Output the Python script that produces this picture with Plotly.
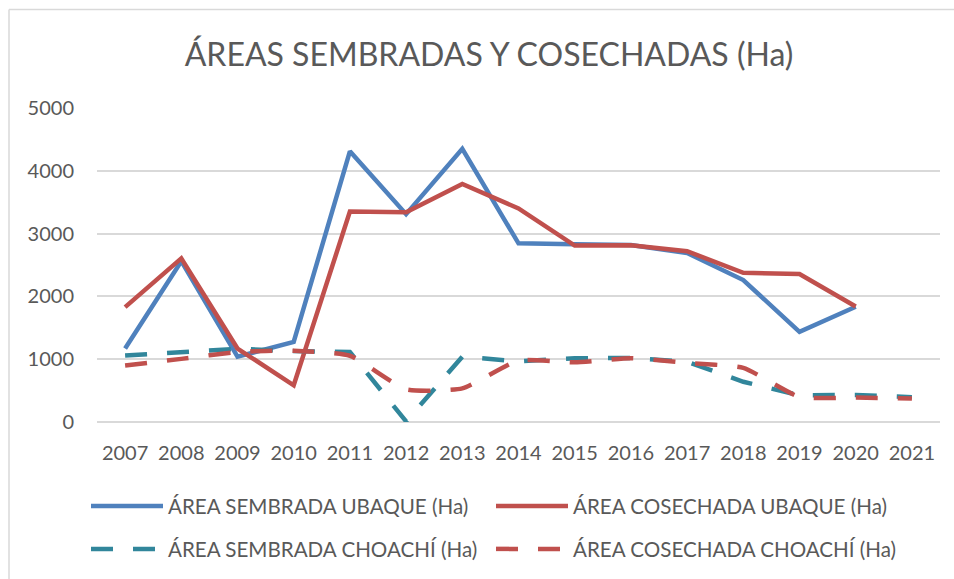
import plotly.graph_objects as go

years = [str(y) for y in range(2007, 2022)]

sembrada_ubaque = [1170, 2560, 1040, 1275, 4310, 3310, 4350, 2845, 2830, 2820, 2690, 2260, 1435, 1835, None]
cosechada_ubaque = [1830, 2605, 1170, 585, 3350, 3340, 3790, 3400, 2810, 2815, 2720, 2375, 2355, 1840, None]
sembrada_choachi = [1060, 1105, 1165, 1130, 1115, 10, 1040, 965, 1015, 1020, 960, 640, 426, 430, 395]
cosechada_choachi = [900, 1005, 1115, 1135, 1055, 521, 535, 980, 950, 1016, 940, 862, 399, 389, 373]

names = [
    "ÁREA SEMBRADA UBAQUE (Ha)",
    "ÁREA COSECHADA UBAQUE (Ha)",
    "ÁREA SEMBRADA CHOACHÍ (Ha)",
    "ÁREA COSECHADA CHOACHÍ (Ha)",
]

y_ticks = [0, 1000, 2000, 3000, 4000, 5000]

BLUE = "#4F81BD"
RED = "#C0504D"
TEAL = "#31869B"
TXT = "#595959"
GRID = "#D9D9D9"
FONT = "Lato"
DASH = "22px,20px"

fig = go.Figure()
fig.add_trace(go.Scatter(x=years, y=sembrada_ubaque, name=names[0], mode="lines",
                         line=dict(color=BLUE, width=4.5), legend="legend"))
fig.add_trace(go.Scatter(x=years, y=cosechada_ubaque, name=names[1], mode="lines",
                         line=dict(color=RED, width=4.5), legend="legend"))
fig.add_trace(go.Scatter(x=years, y=sembrada_choachi, name=names[2], mode="lines",
                         line=dict(color=TEAL, width=4.5, dash=DASH), legend="legend2"))
fig.add_trace(go.Scatter(x=years, y=cosechada_choachi, name=names[3], mode="lines",
                         line=dict(color=RED, width=4.5, dash=DASH, shape="spline", smoothing=0.5),
                         legend="legend2"))

W, H = 954, 579
L, R, T, B = 97, 14, 108, 157
pw, ph = W - L - R, H - T - B

def px_x(x):
    return (x - L) / pw

def px_y(y):
    return (H - B - y) / ph

legend_common = dict(orientation="h", xref="container", yref="container",
                     x=86 / W, xanchor="left", yanchor="middle",
                     itemwidth=72, entrywidth=318,
                     font=dict(size=20.6, color=TXT, family=FONT),
                     bgcolor="rgba(0,0,0,0)")

fig.update_layout(
    width=W, height=H,
    margin=dict(l=L, r=R, t=T, b=B),
    paper_bgcolor="white", plot_bgcolor="white",
    font=dict(family=FONT, color=TXT, size=20),
    title=dict(text="ÁREAS SEMBRADAS Y COSECHADAS (Ha)", x=489 / W, xanchor="center",
               y=1 - 55 / H, yanchor="middle", font=dict(size=32, color=TXT, family=FONT)),
    xaxis=dict(type="category", range=[-0.5, 14.5], showgrid=False, showline=False,
               ticks="", tickfont=dict(size=20, color=TXT), ticklabelstandoff=17),
    yaxis=dict(range=[0, 5000], tickvals=y_ticks, showgrid=True, gridcolor=GRID, gridwidth=1.5,
               zeroline=True, zerolinecolor=GRID, zerolinewidth=1.5, showline=False,
               ticks="", tickfont=dict(size=20, color=TXT), ticklabelstandoff=22),
    legend=dict(legend_common, y=1 - 506 / H),
    legend2=dict(legend_common, y=1 - 549 / H),
    shapes=[
        dict(type="line", xref="paper", yref="paper", x0=px_x(9), x1=px_x(9),
             y0=px_y(600), y1=px_y(9.5), line=dict(color=GRID, width=1.5)),
        dict(type="line", xref="paper", yref="paper", x0=px_x(9), x1=px_x(970),
             y0=px_y(9.5), y1=px_y(9.5), line=dict(color=GRID, width=1.5)),
    ],
    showlegend=True,
)

fig.write_html("out.html", config={"displayModeBar": False},
               post_script="document.body.style.margin='0';")
